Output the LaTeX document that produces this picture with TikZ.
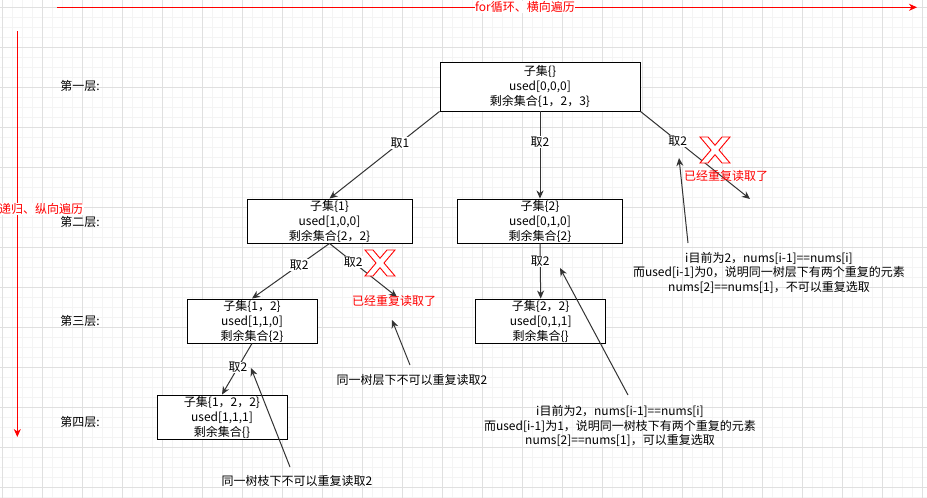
\documentclass[tikz,border=0pt]{standalone}
\usepackage{fontspec}
\setmainfont{Noto Sans CJK SC}
\usetikzlibrary{arrows.meta}
\definecolor{gmin}{HTML}{F4F4F4}
\definecolor{gmaj}{HTML}{E0E0E0}
\definecolor{xred}{HTML}{FF0000}
\definecolor{edgec}{HTML}{333333}
\tikzset{
  box/.style={draw=black, line width=0.9pt, fill=white, align=center, inner sep=0pt,
    font=\fontsize{12}{15}\selectfont},
  edge/.style={draw=edgec, line width=1pt, -{Stealth[length=8pt,width=7pt,inset=2.5pt]}},
  redarrow/.style={draw=xred, line width=1pt, -{Stealth[length=8pt,width=7pt,inset=2.5pt]}},
  lab/.style={fill=white, inner sep=0.5pt, font=\fontsize{12}{15}\selectfont, text=black},
  redlab/.style={fill=white, inner sep=0.5pt, font=\fontsize{12}{15}\selectfont, text=xred},
  plain/.style={inner sep=0pt, align=center, font=\fontsize{12}{15}\selectfont},
  note/.style={inner sep=0pt, align=center, font=\fontsize{12}{14.5}\selectfont},
  xmark/.style={draw=xred, fill=white, line width=0.9pt, line join=miter}
}
\begin{document}
\begin{tikzpicture}[x=1pt,y=-1pt]
\useasboundingbox (0,0) rectangle (927,498);
\fill[white] (0,0) rectangle (927,498);
% grid
\foreach \i in {0,...,92} {\draw[gmin, line width=0.6pt] ({2.3+10*\i},0) -- ({2.3+10*\i},498);}
\foreach \j in {0,...,49} {\draw[gmin, line width=0.6pt] (0,{7.3+10*\j}) -- (927,{7.3+10*\j});}
\foreach \i in {0,...,23} {\draw[gmaj, line width=0.8pt] ({2.3+40*\i},0) -- ({2.3+40*\i},498);}
\foreach \j in {0,...,12} {\draw[gmaj, line width=0.8pt] (0,{7.3+40*\j}) -- (927,{7.3+40*\j});}

% red traversal arrows
\coordinate (hs) at (57,7.3);
\coordinate (he) at (917,7.3);
\draw[redarrow] (hs) -- (he);
\node[redlab] (hlab) at (525,7.3) {for循环、横向遍历};
\coordinate (vs) at (17.3,31);
\coordinate (ve) at (17.3,437);
\draw[redarrow] (vs) -- (ve);
\node[redlab] (vlab) at (41,209) {递归、纵向遍历};

% layer labels
\node[plain] (L1) at (80,86) {第一层:};
\node[plain] (L2) at (80,222) {第二层:};
\node[plain] (L3) at (80,321) {第三层:};
\node[plain] (L4) at (80,422) {第四层:};

% boxes
\node[box, minimum width=200pt, minimum height=49pt] (root) at (540,86.5) {子集\{\}\\used[0,0,0]\\剩余集合\{1，2，3\}};
\node[box, minimum width=165pt, minimum height=44pt] (n1) at (329.5,221) {子集\{1\}\\used[1,0,0]\\剩余集合\{2，2\}};
\node[box, minimum width=165pt, minimum height=44pt] (n2) at (540,221) {子集\{2\}\\used[0,1,0]\\剩余集合\{2\}};
\node[box, minimum width=130pt, minimum height=44pt] (n12) at (252,321) {子集\{1，2\}\\used[1,1,0]\\剩余集合\{2\}};
\node[box, minimum width=130pt, minimum height=44pt] (n22) at (540.7,321) {子集\{2，2\}\\used[0,1,1]\\剩余集合\{\}};
\node[box, minimum width=130pt, minimum height=44pt] (n122) at (222,417) {子集\{1，2，2\}\\used[1,1,1]\\剩余集合\{\}};

% tree edges
\coordinate (c1) at (750,199);
\coordinate (c2) at (397,297);
\draw[edge] (root.south west) -- node[lab, pos=0.36] {取1} (n1.north);
\draw[edge] (root.south) -- node[lab, pos=0.35] {取2} (n2.north);
\draw[edge] (root.south east) -- node[lab, pos=0.34] {取2} (c1);
\draw[edge] (n1.south) -- node[lab, pos=0.39] {取2} (n12.north);
\draw[edge] (n1.south) -- node[lab, pos=0.35] {取2} (c2);
\draw[edge] (n2.south) -- node[lab, pos=0.33] {取2} (n22.north);
\draw[edge] (n12.south) -- node[lab, pos=0.47] {取2} (n122.north);

% red crosses
\foreach \ox/\oy in {700/137, 365/250} {
  \draw[xmark, shift={(\ox,\oy)}] (0,0) -- (8,0) -- (15,8.27) -- (22,0) -- (30,0) -- (19,13)
    -- (30,26) -- (22,26) -- (15,17.7) -- (8,26) -- (0,26) -- (11,13) -- cycle;
}
\node[plain, text=xred] (r1) at (726,176) {已经重复读取了};
\node[plain, text=xred] (r2) at (394,301) {已经重复读取了};

% annotations
\node[note] (t1) at (769,272.5) {i目前为2，nums[i-1]==nums[i]\\而used[i-1]为0，说明同一树层下有两个重复的元素\\nums[2]==nums[1]，不可以重复选取};
\node[note] (t2) at (412,380) {同一树层下不可以重复读取2};
\node[note] (t3) at (620,426) {i目前为2，nums[i-1]==nums[i]\\而used[i-1]为1，说明同一树枝下有两个重复的元素\\nums[2]==nums[1]，可以重复选取};
\node[note] (t4) at (297,481) {同一树枝下不可以重复读取2};

\coordinate (a1s) at (688,243);
\coordinate (a1e) at (679,158);
\coordinate (a2s) at (410,365);
\coordinate (a2e) at (392,320);
\coordinate (a3s) at (628,395);
\coordinate (a3e) at (560,268);
\coordinate (a4s) at (290,467);
\coordinate (a4e) at (251,368);
\draw[edge] (a1s) -- (a1e);
\draw[edge] (a2s) -- (a2e);
\draw[edge] (a3s) -- (a3e);
\draw[edge] (a4s) -- (a4e);
\end{tikzpicture}
\end{document}
